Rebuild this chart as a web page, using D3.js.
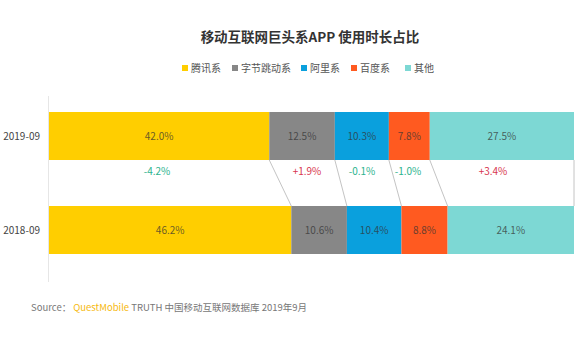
<!DOCTYPE html>
<html>
<head>
<meta charset="utf-8">
<script src="https://cdn.jsdelivr.net/npm/d3@7"></script>
<style>
  body { margin: 0; background: #fff; }
  svg { display: block; font-family: "Noto Sans CJK SC", "Noto Sans", sans-serif; }
</style>
</head>
<body>
<svg id="chart" width="578" height="341"></svg>
<script>
'use strict';

// data
const periods = ['2019-09', '2018-09'];
const groups = ['腾讯系', '字节跳动系', '阿里系', '百度系', '其他'];
const share2019 = [42.0, 12.5, 10.3, 7.8, 27.5];
const share2018 = [46.2, 10.6, 10.4, 8.8, 24.1];
const changes = ['-4.2%', '+1.9%', '-0.1%', '-1.0%', '+3.4%'];
const colors = ['#FFCE00', '#878787', '#0AA0DD', '#FF5A20', '#7DD8D4'];

const margin = { left: 49, right: 4 };
const width = 578 - margin.left - margin.right;
const barH = 48;
const svg = d3.select('#chart');

// stack each period's shares into [start, end]
function stackRow(values) {
    let acc = 0;
    return values.map((v, i) => {
        const d = { group: groups[i], value: v, x0: acc, x1: acc + v };
        acc += v;
        return d;
    });
}
const rows = [stackRow(share2019), stackRow(share2018)];
const total = d3.max(rows, (r) => r[r.length - 1].x1);

const xScale = d3.scaleLinear().domain([0, total]).range([margin.left, margin.left + width]);
const yPos = d3.scaleOrdinal().domain(periods).range([112, 206]);

// title
svg.append('text')
    .attr('x', 310).attr('y', 42)
    .attr('text-anchor', 'middle')
    .attr('font-size', 13.5).attr('font-weight', 'bold')
    .attr('fill', '#333')
    .text('移动互联网巨头系APP 使用时长占比');

// legend
const legendX = [182, 232, 301, 351, 405];
const legend = svg.append('g');
groups.forEach((g, i) => {
    legend.append('rect')
        .attr('x', legendX[i]).attr('y', 65)
        .attr('width', 6).attr('height', 6)
        .attr('fill', colors[i]);
    legend.append('text')
        .attr('x', legendX[i] + 9).attr('y', 72)
        .attr('font-size', 10).attr('fill', '#555')
        .text(g);
});

// faint axis line on the left
svg.append('line')
    .attr('x1', 48.5).attr('x2', 48.5)
    .attr('y1', 96).attr('y2', 282)
    .attr('stroke', '#e6e6e6');

// connector lines between segment ends
const bottomTop = yPos(periods[1]);
const topBottom = yPos(periods[0]) + barH;
rows[0].forEach((d, i) => {
    svg.append('line')
        .attr('x1', xScale(d.x1)).attr('y1', topBottom)
        .attr('x2', xScale(rows[1][i].x1)).attr('y2', bottomTop)
        .attr('stroke', '#c4c4c4').attr('stroke-width', 1);
});

// bars
rows.forEach((row, r) => {
    const g = svg.append('g');
    g.selectAll('rect')
        .data(row)
        .join('rect')
        .attr('x', (d) => xScale(d.x0))
        .attr('y', yPos(periods[r]))
        .attr('width', (d) => xScale(d.x1) - xScale(d.x0))
        .attr('height', barH)
        .attr('fill', (d, i) => colors[i]);
    g.selectAll('text')
        .data(row)
        .join('text')
        .attr('x', (d) => (xScale(d.x0) + xScale(d.x1)) / 2)
        .attr('y', yPos(periods[r]) + barH / 2 + 4)
        .attr('text-anchor', 'middle')
        .attr('font-size', 10)
        .attr('fill', '#333').attr('fill-opacity', 0.75)
        .text((d) => d.value.toFixed(1) + '%');

    svg.append('text')
        .attr('x', 40).attr('y', yPos(periods[r]) + barH / 2 + 4)
        .attr('text-anchor', 'end')
        .attr('font-size', 10).attr('fill', '#444')
        .text(periods[r]);
});

// change labels between bars
const changeX = [157, 307, 362, 408, 493];
svg.append('g').selectAll('text')
    .data(changes)
    .join('text')
    .attr('x', (d, i) => changeX[i])
    .attr('y', 175)
    .attr('text-anchor', 'middle')
    .attr('font-size', 10)
    .attr('fill', (d) => d[0] === '+' ? '#D8364E' : '#2DB38E')
    .text((d) => d);

// source
const src = svg.append('text')
    .attr('x', 31).attr('y', 311)
    .attr('font-size', 9.5).attr('fill', '#777');
src.append('tspan').text('Source：  ');
src.append('tspan').attr('fill', '#F6B90F').text('QuestMobile');
src.append('tspan').text(' TRUTH 中国移动互联网数据库 2019年9月');
</script>
</body>
</html>
